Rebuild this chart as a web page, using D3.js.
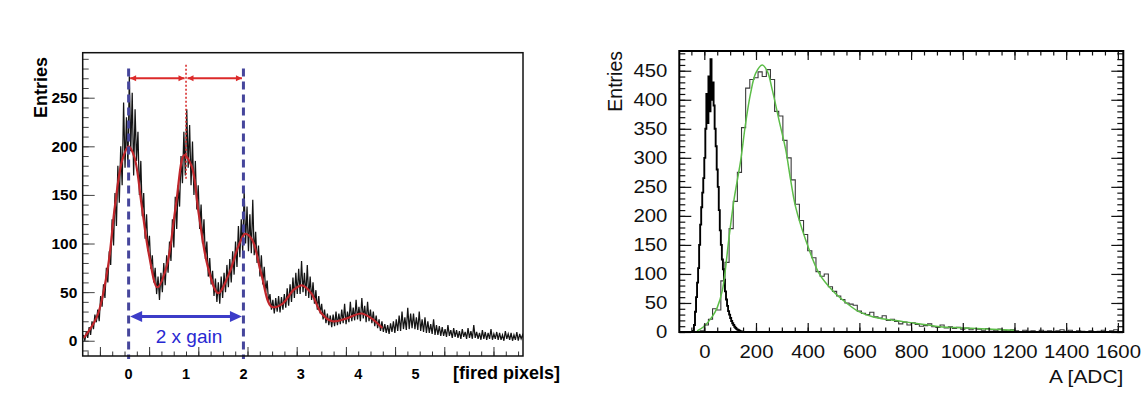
<!DOCTYPE html>
<html>
<head>
<meta charset="utf-8">
<script src="https://cdn.jsdelivr.net/npm/d3@7"></script>
<style>
body { margin: 0; background: #fff; }
svg { display: block; }
.lp text { font-family: "Liberation Sans", Arial, sans-serif; font-weight: bold; fill: #000; }
.rp text { font-family: "Liberation Sans", Arial, sans-serif; fill: #111; }
</style>
</head>
<body>
<svg id="chart" width="1145" height="410"></svg>
<script>
// ---- left panel: fired pixels spectrum ----
var pixBinStart = -0.8, pixBinWidth = 0.025;
var pixCounts = [
  6,0,9,3,14,6,20,12,27,19,
  32,20,46,35,58,44,75,60,92,78,
  125,98,152,118,180,142,200,160,245,178,
  230,180,272,195,255,170,238,185,215,150,
  185,128,152,105,130,92,108,74,88,60,
  75,48,66,42,70,50,80,57,88,70,
  102,82,125,96,148,115,160,138,190,162,
  215,170,238,178,222,160,205,150,185,135,
  160,115,140,100,125,84,102,66,85,58,
  72,46,64,40,60,38,66,44,70,50,
  78,55,84,60,92,68,102,76,118,86,
  125,92,155,100,138,92,130,90,145,88,
  112,80,98,66,88,58,76,50,62,40,
  48,32,42,28,44,30,46,29,45,32,
  48,34,54,36,58,40,65,44,70,48,
  74,48,82,50,70,46,78,44,66,42,
  60,38,52,32,46,28,38,22,32,18,
  28,16,26,14,27,15,30,16,28,17,
  32,18,38,17,30,19,40,20,34,21,
  42,22,35,20,44,23,36,19,40,20,
  32,18,30,15,26,13,22,10,20,9,
  17,8,16,7,18,9,20,8,22,10,
  26,10,30,12,24,11,34,12,28,13,
  28,12,24,11,30,10,22,9,24,8,
  20,8,17,7,22,6,16,6,15,5,
  14,5,12,4,16,5,11,3,13,4,
  11,3,10,2,12,4,9,2,13,3,
  10,2,16,3,9,2,8,1,11,2,
  9,1,8,2,12,1,7,2,9,1,
  8,1,6,0,10,2,7,1,8,0,
  6,1,9,0,7,2,6,1
];
var pixFitX = [-0.78,-0.55,-0.36,-0.24,-0.11,0,0.1,0.23,0.35,0.5,0.66,0.82,0.97,1.1,1.22,1.38,1.56,1.75,1.91,2.03,2.15,2.31,2.49,2.68,2.87,3.02,3.18,3.36,3.55,3.8,4.05,4.23,4.42];
var pixFitY = [3,25,76,138,186,200,189,138,90,55,76,138,191,179,131,76,49,69,97,110,104,69,35,38,52,57,49,28,20,23,28,23,13];
var pixTickLabels = ["0","1","2","3","4","5"];
var pixYTicks = [0,50,100,150,200,250];
var pixMarkTop = 270;       // level of the red peak-distance arrows
var gainArrowLevel = 25;    // level of the blue "2 x gain" arrow

// ---- right panel: amplitude spectrum ----
var pedStart = -44, pedWidth = 4;
var pedCounts = [2,12,35,60,85,110,150,185,215,240,265,300,350,410,360,440,380,470,400,430,390,350,320,280,250,210,175,150,125,108,90,70,56,45,36,30,24,19,15,12,9,7,5,4,3,2,1,1,0,0];
var sigStart = -32, sigWidth = 16;
var sigCounts = [
  0,2,12,22,40,38,88,120,178,225,
  275,352,420,435,438,448,440,452,435,380,
  372,330,300,262,220,192,168,140,128,104,
  96,100,78,70,62,56,50,48,46,36,
  32,30,34,26,24,28,20,22,18,14,
  17,12,16,13,10,11,14,9,8,12,
  7,9,6,8,5,7,4,6,5,3,
  6,4,2,5,3,2,4,2,0,3,
  1,2,0,3,1,2,0,2,4,1,
  3,0,2,1,0,2,0,1,3,0,
  2,4
];
var fitAdc = [-28,0,30,50,70,96,115,128,141,160,179,199,224,244,263,289,315,334,353,392,444,495,550,598,654,720,783,850,912,1000,1093,1200];
var fitEntries = [2,10,26,42,72,164,228,262,296,360,411,446,460,449,417,365,314,262,216,159,101,72,50,35,26,21,17,13,9,7,5,3];
var adcTicks = [0,200,400,600,800,1000,1200,1400,1600];
var entryTicks = [0,50,100,150,200,250,300,350,400,450];

var svg = d3.select("#chart");

function stepPoints(start, width, counts){
  var pts = [[start, 0]];
  counts.forEach(function(c, i){ pts.push([start + i * width, c]); });
  var end = start + counts.length * width;
  pts.push([end, counts[counts.length - 1]]);
  pts.push([end, 0]);
  return pts;
}

// ================= left panel =================
var lp = svg.append("g").attr("class", "lp");
var xL = d3.scaleLinear().domain([-0.8, 6.87]).range([82.7, 523]);
var yL = d3.scaleLinear().domain([-15.7, 296.3]).range([356, 52.7]);
// channel scale of the original plot, only used for the bottom tick marks
var chL = d3.scaleLinear().domain([-35, 860]).range([82.7, 523]);

lp.append("clipPath").attr("id", "clipL").append("rect")
  .attr("x", 82.7).attr("y", 52.7).attr("width", 523 - 82.7).attr("height", 356 - 52.7);

// y ticks (inside)
lp.append("g").attr("transform", "translate(82.7,0)")
  .call(d3.axisLeft(yL).tickValues(d3.range(-10, 291, 10)).tickSize(-6).tickFormat(""))
  .call(function(g){ g.select(".domain").remove(); g.selectAll("line").attr("stroke", "#444"); });
lp.append("g").attr("transform", "translate(82.7,0)")
  .call(d3.axisLeft(yL).tickValues(pixYTicks).tickSize(-12).tickPadding(5.4))
  .call(function(g){
    g.select(".domain").remove();
    g.selectAll("line").attr("stroke", "#444");
    g.selectAll("text").style("font-size", "15.5px");
  });

// bottom ticks (inside)
lp.append("g").attr("transform", "translate(0,356)")
  .call(d3.axisBottom(chL).tickValues(d3.range(-25, 860, 25)).tickSize(-4.5).tickFormat(""))
  .call(function(g){ g.select(".domain").remove(); g.selectAll("line").attr("stroke", "#333"); });
lp.append("g").attr("transform", "translate(0,356)")
  .call(d3.axisBottom(chL).tickValues(d3.range(0, 900, 100)).tickSize(-9).tickFormat(""))
  .call(function(g){ g.select(".domain").remove(); g.selectAll("line").attr("stroke", "#333"); });

lp.selectAll(".xlab").data(pixTickLabels).enter().append("text")
  .attr("class", "xlab")
  .attr("x", function(d){ return xL(+d); })
  .attr("y", 379.3)
  .attr("text-anchor", "middle")
  .style("font-size", "14.5px")
  .text(function(d){ return d; });

lp.append("text").attr("x", 453).attr("y", 379.3)
  .style("font-size", "18px").text("[fired pixels]");
lp.append("text").attr("transform", "translate(46.7,57) rotate(-90)")
  .attr("text-anchor", "end").style("font-size", "18px").text("Entries");

// noisy histogram, drawn as a dense jagged line through the bin centres
var plotL = lp.append("g").attr("clip-path", "url(#clipL)");
plotL.append("path")
  .datum(pixCounts.map(function(c, i){ return [pixBinStart + (i + 0.5) * pixBinWidth, c]; }))
  .attr("fill", "none").attr("stroke", "#141414").attr("stroke-width", 1.25)
  .attr("d", d3.line().x(function(d){ return xL(d[0]); }).y(function(d){ return yL(d[1]); }));

// fit
plotL.append("path")
  .datum(pixFitX.map(function(x, i){ return [x, pixFitY[i]]; }))
  .attr("fill", "none").attr("stroke", "#c0262b").attr("stroke-width", 2.2)
  .attr("d", d3.line().x(function(d){ return xL(d[0]); }).y(function(d){ return yL(d[1]); }).curve(d3.curveCatmullRom.alpha(0.5)));

// blue dashed peak markers at 0 and 2
[0, 2].forEach(function(p){
  lp.append("line")
    .attr("x1", xL(p)).attr("x2", xL(p))
    .attr("y1", yL(280)).attr("y2", 359)
    .attr("stroke", "#46469c").attr("stroke-width", 3)
    .attr("stroke-dasharray", "8,5");
});
// red dotted marker at 1
lp.append("line")
  .attr("x1", xL(1)).attr("x2", xL(1))
  .attr("y1", yL(284)).attr("y2", yL(165))
  .attr("stroke", "#d83030").attr("stroke-width", 1.6)
  .attr("stroke-dasharray", "2,2");

function arrowHead(g, x, y, dir, len, half, color){
  g.append("path")
    .attr("d", "M" + x + "," + y + "L" + (x - dir * len) + "," + (y - half) + "L" + (x - dir * len) + "," + (y + half) + "Z")
    .attr("fill", color);
}

// red distance arrows 0->1, 1->2
var red = "#dc2a2a";
[[0, 1], [1, 2]].forEach(function(seg){
  var a = xL(seg[0]) + 1.5, b = xL(seg[1]) - 1.5, y = yL(pixMarkTop);
  lp.append("line").attr("x1", a).attr("x2", b).attr("y1", y).attr("y2", y)
    .attr("stroke", red).attr("stroke-width", 1.8);
  arrowHead(lp, a, y, -1, 6, 3, red);
  arrowHead(lp, b, y, 1, 6, 3, red);
});

// blue "2 x gain" arrow
var blue = "#3c3cc8";
(function(){
  var a = xL(0) + 1.5, b = xL(2) - 1.5, y = yL(gainArrowLevel);
  lp.append("line").attr("x1", a + 8).attr("x2", b - 8).attr("y1", y).attr("y2", y)
    .attr("stroke", blue).attr("stroke-width", 3);
  arrowHead(lp, a, y, -1, 12, 5.5, blue);
  arrowHead(lp, b, y, 1, 12, 5.5, blue);
  lp.append("text").attr("x", (xL(0) + xL(2)) / 2 + 3).attr("y", 342.7)
    .attr("text-anchor", "middle")
    .style("font-size", "19px").style("font-weight", "normal").style("fill", "#2828d2")
    .text("2 x gain");
})();

// frame
lp.append("rect").attr("x", 82.7).attr("y", 52.7).attr("width", 523 - 82.7).attr("height", 356 - 52.7)
  .attr("fill", "none").attr("stroke", "#111").attr("stroke-width", 1.5);

// ================= right panel =================
var rp = svg.append("g").attr("class", "rp");
var x0 = 679.3, x1 = 1123.3, y0 = 332, y1 = 51;
var xR = d3.scaleLinear().domain([-96.7, 1621]).range([x0, x1]);
var yR = d3.scaleLinear().domain([0, 484]).range([y0, y1]);

rp.append("clipPath").attr("id", "clipR").append("rect")
  .attr("x", x0).attr("y", y1).attr("width", x1 - x0).attr("height", y0 - y1);

var plotR = rp.append("g").attr("clip-path", "url(#clipR)");
var lineR = d3.line().x(function(d){ return xR(d[0]); }).y(function(d){ return yR(d[1]); });

plotR.append("path")
  .datum(stepPoints(sigStart, sigWidth, sigCounts))
  .attr("fill", "none").attr("stroke", "#3a3a3a").attr("stroke-width", 1.1)
  .attr("d", lineR.curve(d3.curveStepAfter));
plotR.append("path")
  .datum(stepPoints(pedStart, pedWidth, pedCounts))
  .attr("fill", "none").attr("stroke", "#000").attr("stroke-width", 1.9)
  .attr("d", lineR.curve(d3.curveStepAfter));
plotR.append("path")
  .datum(fitAdc.map(function(x, i){ return [x, fitEntries[i]]; }))
  .attr("fill", "none").attr("stroke", "#5cbd48").attr("stroke-width", 1.5)
  .attr("d", lineR.curve(d3.curveCatmullRom.alpha(0.5)));

function clean(g){ g.select(".domain").remove(); g.selectAll("line").attr("stroke", "#111").attr("stroke-width", 1.2); }

// bottom / top ticks
rp.append("g").attr("transform", "translate(0," + y0 + ")")
  .call(d3.axisBottom(xR).tickValues(d3.range(-50, 1601, 50)).tickSize(-4.5).tickFormat("")).call(clean);
rp.append("g").attr("transform", "translate(0," + y0 + ")")
  .call(d3.axisBottom(xR).tickValues(adcTicks).tickSize(-9).tickPadding(12.9).tickFormat(d3.format("d")))
  .call(clean)
  .call(function(g){ g.selectAll("text").style("font-size", "18px").attr("transform", "scale(1.13,1)"); });
rp.append("g").attr("transform", "translate(0," + y1 + ")")
  .call(d3.axisTop(xR).tickValues(d3.range(-50, 1601, 50)).tickSize(-4.5).tickFormat("")).call(clean);
rp.append("g").attr("transform", "translate(0," + y1 + ")")
  .call(d3.axisTop(xR).tickValues(adcTicks).tickSize(-9).tickFormat("")).call(clean);

// left / right ticks
rp.append("g").attr("transform", "translate(" + x0 + ",0)")
  .call(d3.axisLeft(yR).tickValues(d3.range(0, 481, 10)).tickSize(-6).tickFormat("")).call(clean);
rp.append("g").attr("transform", "translate(" + x0 + ",0)")
  .call(d3.axisLeft(yR).tickValues(entryTicks).tickSize(-12).tickPadding(10.6).tickFormat(d3.format("d")))
  .call(clean)
  .call(function(g){ g.selectAll("text").style("font-size", "18px").attr("transform", "scale(1.13,1)"); });
rp.append("g").attr("transform", "translate(" + x1 + ",0)")
  .call(d3.axisRight(yR).tickValues(d3.range(0, 481, 10)).tickSize(-6).tickFormat("")).call(clean);
rp.append("g").attr("transform", "translate(" + x1 + ",0)")
  .call(d3.axisRight(yR).tickValues(entryTicks).tickSize(-12).tickFormat("")).call(clean);

// frame
rp.append("rect").attr("x", x0).attr("y", y1).attr("width", x1 - x0).attr("height", y0 - y1)
  .attr("fill", "none").attr("stroke", "#000").attr("stroke-width", 2);

rp.append("text").attr("transform", "translate(" + x1 + ",382.7) scale(1.13,1)")
  .attr("text-anchor", "end").style("font-size", "18.5px").text("A [ADC]");
rp.append("text").attr("transform", "translate(622," + y1 + ") rotate(-90)")
  .attr("text-anchor", "end").style("font-size", "19.5px").text("Entries");
</script>
</body>
</html>
